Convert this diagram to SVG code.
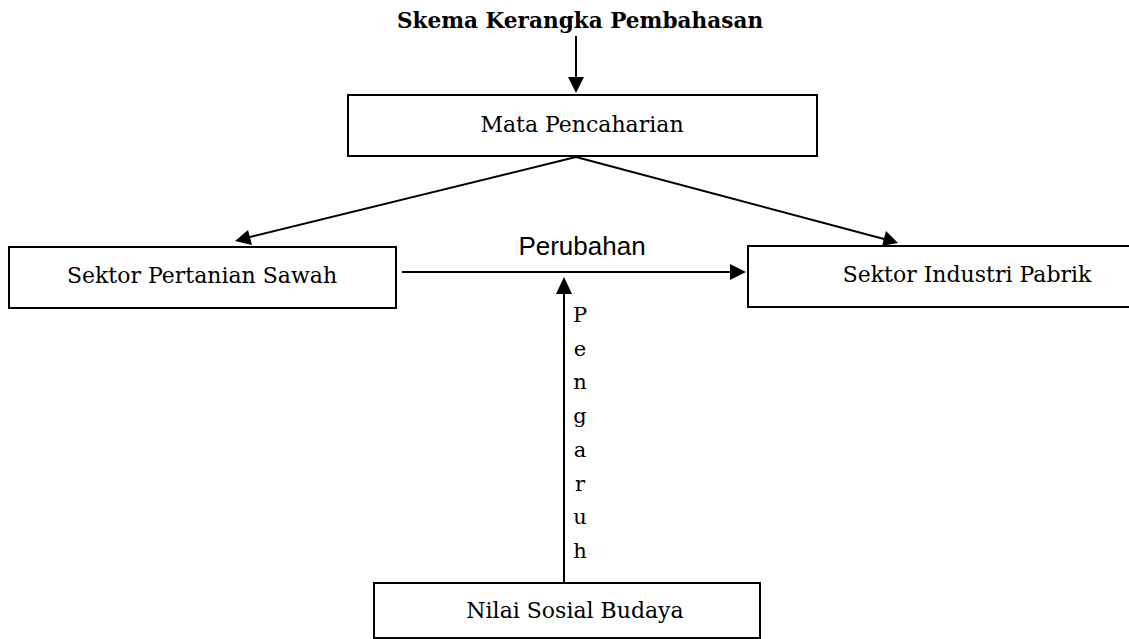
<svg xmlns="http://www.w3.org/2000/svg" width="1129" height="639" viewBox="0 0 1129 639">
<style>
.box{fill:#fff;stroke:#000;stroke-width:2}
.lbl{font-family:"DejaVu Serif","Liberation Serif",serif;font-size:22px;fill:#000;text-anchor:middle}
.ttl{font-family:"DejaVu Serif","Liberation Serif",serif;font-size:21.6px;font-weight:bold;fill:#000;text-anchor:middle}
.sans{font-family:"Liberation Sans",Arial,sans-serif;font-size:26px;fill:#000;text-anchor:middle}
.vert{font-family:"DejaVu Serif","Liberation Serif",serif;font-size:21px;fill:#000;text-anchor:middle}
.ln{stroke:#000;stroke-width:2;fill:none}
</style>
<rect width="1129" height="639" fill="#fff"/>
<text class="ttl" x="580" y="28">Skema Kerangka Pembahasan</text>
<g id="connectors">
<line class="ln" x1="576" y1="36" x2="576" y2="80"/>
<path d="M568,77 L584,77 L576,93 z" fill="#000"/>
<line class="ln" x1="576" y1="157" x2="250" y2="237"/>
<path d="M235,241 L248,230 L252,245 z" fill="#000"/>
<line class="ln" x1="576" y1="157" x2="884" y2="239"/>
<path d="M898,243 L882,246 L886,231 z" fill="#000"/>
<line class="ln" x1="402" y1="272" x2="731" y2="272"/>
<path d="M746,272 L730,264 L730,280 z" fill="#000"/>
<text class="sans" x="582" y="255">Perubahan</text>
<line class="ln" x1="564" y1="583" x2="564" y2="292"/>
<path d="M564,277 L556,294 L572,294 z" fill="#000"/>
<g class="vert">
<text x="580" y="322">P</text>
<text x="580" y="356">e</text>
<text x="580" y="389">n</text>
<text x="580" y="423">g</text>
<text x="580" y="457">a</text>
<text x="580" y="491">r</text>
<text x="580" y="524">u</text>
<text x="580" y="558">h</text>
</g>
</g>
<g id="mata">
<rect class="box" x="348" y="95" width="469" height="61"/>
<text class="lbl" x="582" y="132">Mata Pencaharian</text>
</g>
<g id="pertanian">
<rect class="box" x="9" y="247" width="387" height="61"/>
<text class="lbl" x="202" y="283">Sektor Pertanian Sawah</text>
</g>
<g id="industri">
<rect class="box" x="748" y="246" width="400" height="61"/>
<text class="lbl" x="967" y="282">Sektor Industri Pabrik</text>
</g>
<g id="nilai">
<rect class="box" x="374" y="583" width="386" height="55"/>
<text class="lbl" x="575" y="618">Nilai Sosial Budaya</text>
</g>
</svg>
